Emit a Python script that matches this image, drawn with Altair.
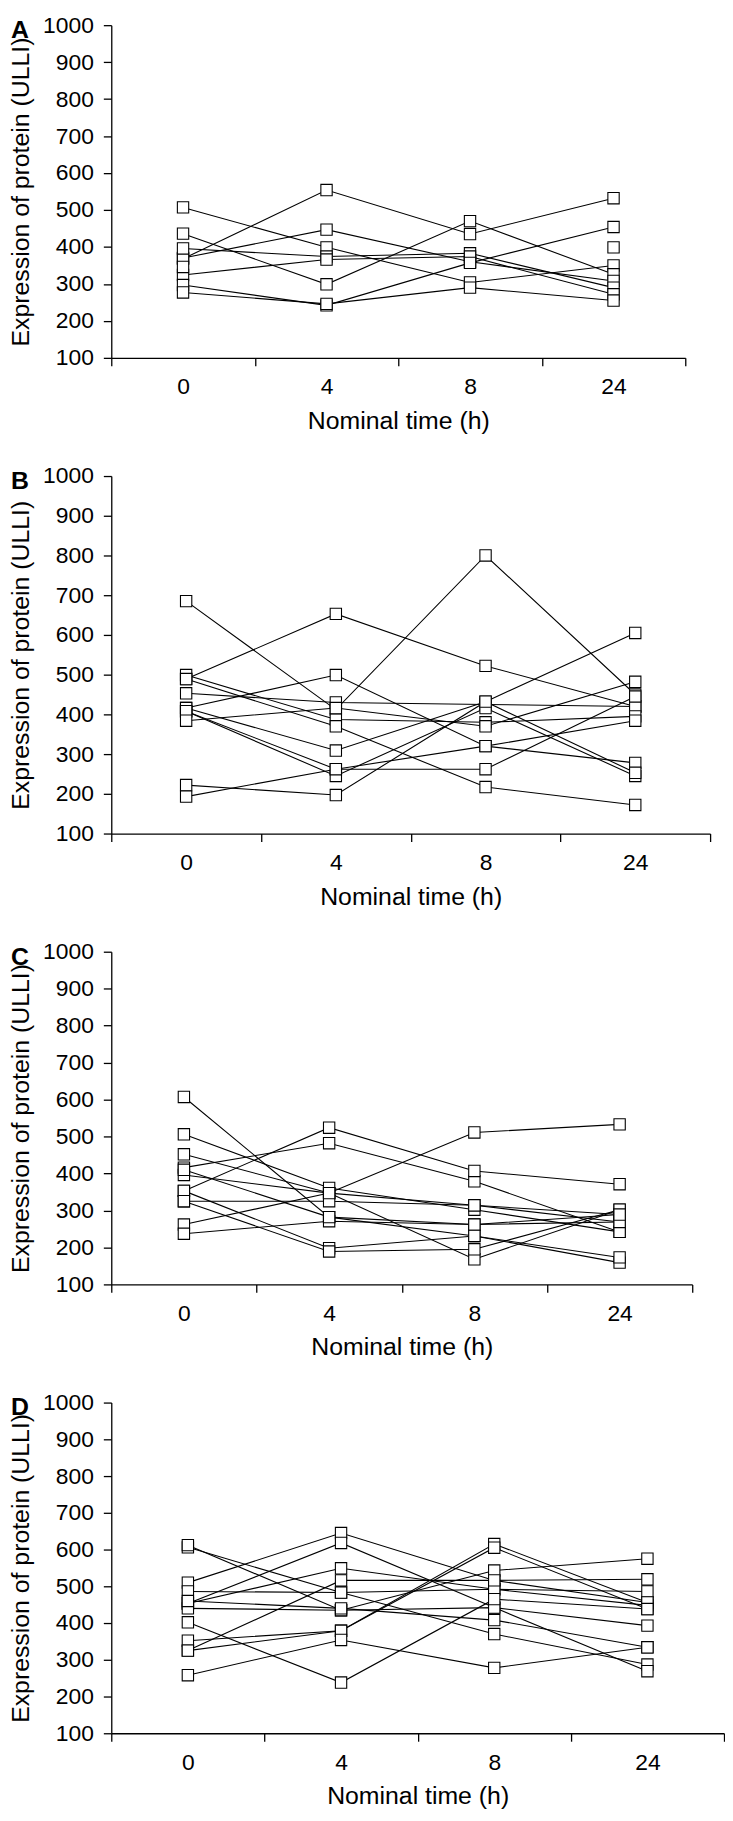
import altair as alt
import pandas as pd

times = ["0", "4", "8", "24"]

# Expression of protein (ULLI) per subject at 0, 4, 8, 24 h (None = missing)
panel_a = [
    [507, 399, 304, 350],
    [436, 299, 470, 326],
    [368, 554, 435, 532],
    [370, 447, 360, 308],
    [396, 374, 383, 290],
    [324, 366, 374, 272],
    [297, 242, 357, 454],
    [277, 246, 290, 255],
    [346, None, None, 399],
]
panel_b = [
    [685, 412, 800, 450],
    [489, 653, 522, 420],
    [416, 499, 320, 278],
    [453, 430, 425, 420],
    [499, 387, 380, 395],
    [489, 370, 217, 172],
    [416, 309, 432, 605],
    [408, 262, 320, 384],
    [408, 245, 416, 245],
    [222, 197, 432, 253],
    [193, 262, 262, 445],
    [384, 416, 370, 482],
]
panel_c = [
    [607, 282, 262, 269],
    [506, 361, 302, 242],
    [452, 347, 168, 302],
    [416, 482, 379, 242],
    [396, 347, 314, 289],
    [353, 524, 407, 371],
    [353, 198, 231, 159],
    [325, 325, 314, 269],
    [325, 189, 195, 302],
    [262, 347, 511, 533],
    [237, 271, 262, 289],
    [410, 282, 231, 173],
]
panel_d = [
    [606, 483, 370, 287],
    [612, 435, 442, 393],
    [510, 645, 516, 456],
    [453, 618, 442, 269],
    [453, 549, 492, 448],
    [486, 483, 492, 486],
    [440, 435, 543, 575],
    [402, 238, 465, 438],
    [352, 379, 615, 456],
    [325, 516, 516, 519],
    [325, 379, 605, 438],
    [258, 354, 278, 334],
    [460, 440, 408, 334],
]

letters = ["A", "B", "C", "D"]
panels = [panel_a, panel_b, panel_c, panel_d]
widths = [578, 603, 585, 617]
heights = [335, 360, 335, 333]

FONT = "Liberation Sans"


def to_frame(values):
    rows = []
    for si, series in enumerate(values):
        seg = 0
        prev_ok = False
        for ti, v in enumerate(series):
            if v is None:
                if prev_ok:
                    seg += 1
                prev_ok = False
                continue
            rows.append(dict(subject=si, seg=f"{si}-{seg}", time=times[ti],
                             order=ti, value=v))
            prev_ok = True
    return pd.DataFrame(rows)


def make_panel(letter, values, w, h):
    df = to_frame(values)
    x = alt.X(
        "time:O", sort=times, bandPosition=0.5,
        scale=alt.Scale(type="band", paddingInner=0, paddingOuter=0),
        axis=alt.Axis(title="Nominal time (h)", labelAngle=0, tickBand="extent",
                      tickSize=8, labelPadding=10, titlePadding=10),
    )
    y = alt.Y(
        "value:Q",
        scale=alt.Scale(domain=[100, 1000], nice=False, zero=False),
        axis=alt.Axis(title="Expression of protein (ULLI)", format="d",
                      values=list(range(100, 1001, 100)), grid=False,
                      tickSize=8, labelPadding=10, titlePadding=9),
    )
    base = alt.Chart(df)
    lines = base.mark_line(color="black", strokeWidth=1.1).encode(
        x=x, y=y, detail="seg:N", order="order:Q")
    points = base.mark_point(shape="square", filled=True, fill="white",
                             stroke="black", strokeWidth=1.1, size=130,
                             opacity=1).encode(x=x, y=y)
    lab = alt.Chart(pd.DataFrame({"t": [letter]})).mark_text(
        font=FONT, fontSize=25, fontWeight="bold", align="left",
        baseline="alphabetic", color="black",
    ).encode(x=alt.value(-101), y=alt.value(13), text="t:N")
    return alt.layer(lines, points, lab).properties(width=w, height=h)


chart = alt.vconcat(
    *[make_panel(l, p, w, h) for l, p, w, h in zip(letters, panels, widths, heights)],
    spacing=119, bounds="flush",
).properties(padding=0).configure_view(stroke=None).configure_axis(
    domainColor="black", tickColor="black", labelColor="black",
    titleColor="black", domainWidth=1.3, tickWidth=1.3,
    labelFont=FONT, titleFont=FONT, labelFontSize=23, titleFontSize=25,
    titleFontWeight="normal",
)

chart.save("out.html", embed_options={"renderer": "svg", "actions": False})
